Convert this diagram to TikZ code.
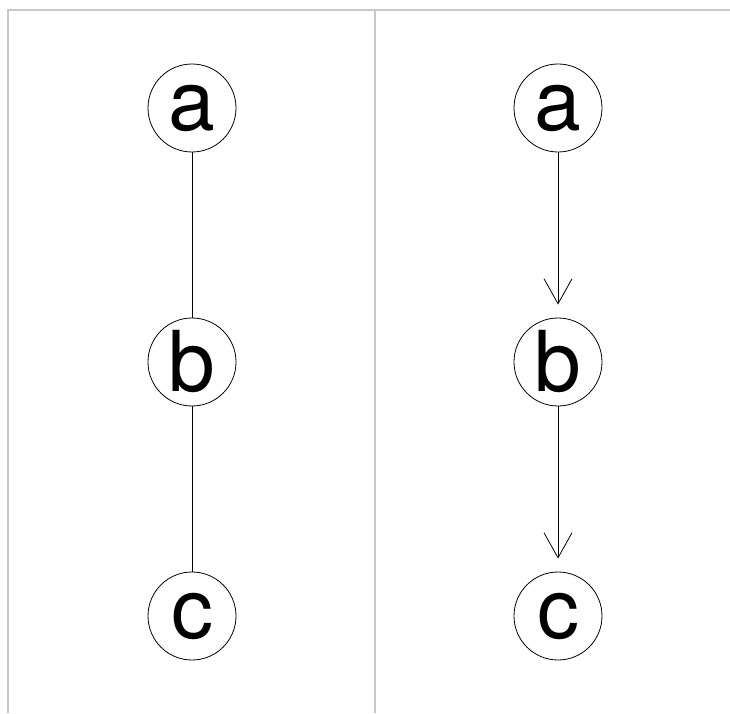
\documentclass[tikz,border=0pt]{standalone}
\usepackage{fontspec}
\setmainfont{TeX Gyre Heros}
\usetikzlibrary{arrows.meta, positioning}

\begin{document}
\begin{tikzpicture}[x=1pt,y=1pt,
		vertex/.style={circle,draw,line width=.8pt,minimum size=88pt,inner sep=0pt,font=\fontsize{84}{90}\selectfont},
		frame/.style={draw=black!22,line width=1.2pt}]
		\useasboundingbox (0,0) rectangle (730,713);
		% frame of the two panels
		\coordinate (tl) at (8,703);
		\coordinate (tr) at (730,703);
		\coordinate (bl) at (8,0);
		\coordinate (tm) at (375,703);
		\coordinate (bm) at (375,0);
		\draw[frame] (bl) -- (tl) -- (tr);
		\draw[frame] (tm) -- (bm);
		
		% undirected
		\node(1) at (192,605)[vertex]{a};
		\node(2) at (192,351)[vertex]{b};
		\node(3) at (192,97)[vertex]{c};
		\draw[line width=.8pt] (1) to (2) to (3);
		
		% directed
		\node(4) at (558,605)[vertex]{a};
		\node(5) at (558,351)[vertex]{b};
		\node(6) at (558,97)[vertex]{c};
		\draw[line width=.8pt,shorten >=13pt,-{Straight Barb[length=25pt,width=28pt,line width=.8pt]}] (4) to (5);
		\draw[line width=.8pt,shorten >=13pt,-{Straight Barb[length=25pt,width=28pt,line width=.8pt]}] (5) to (6);
		
	\end{tikzpicture}
\end{document}
